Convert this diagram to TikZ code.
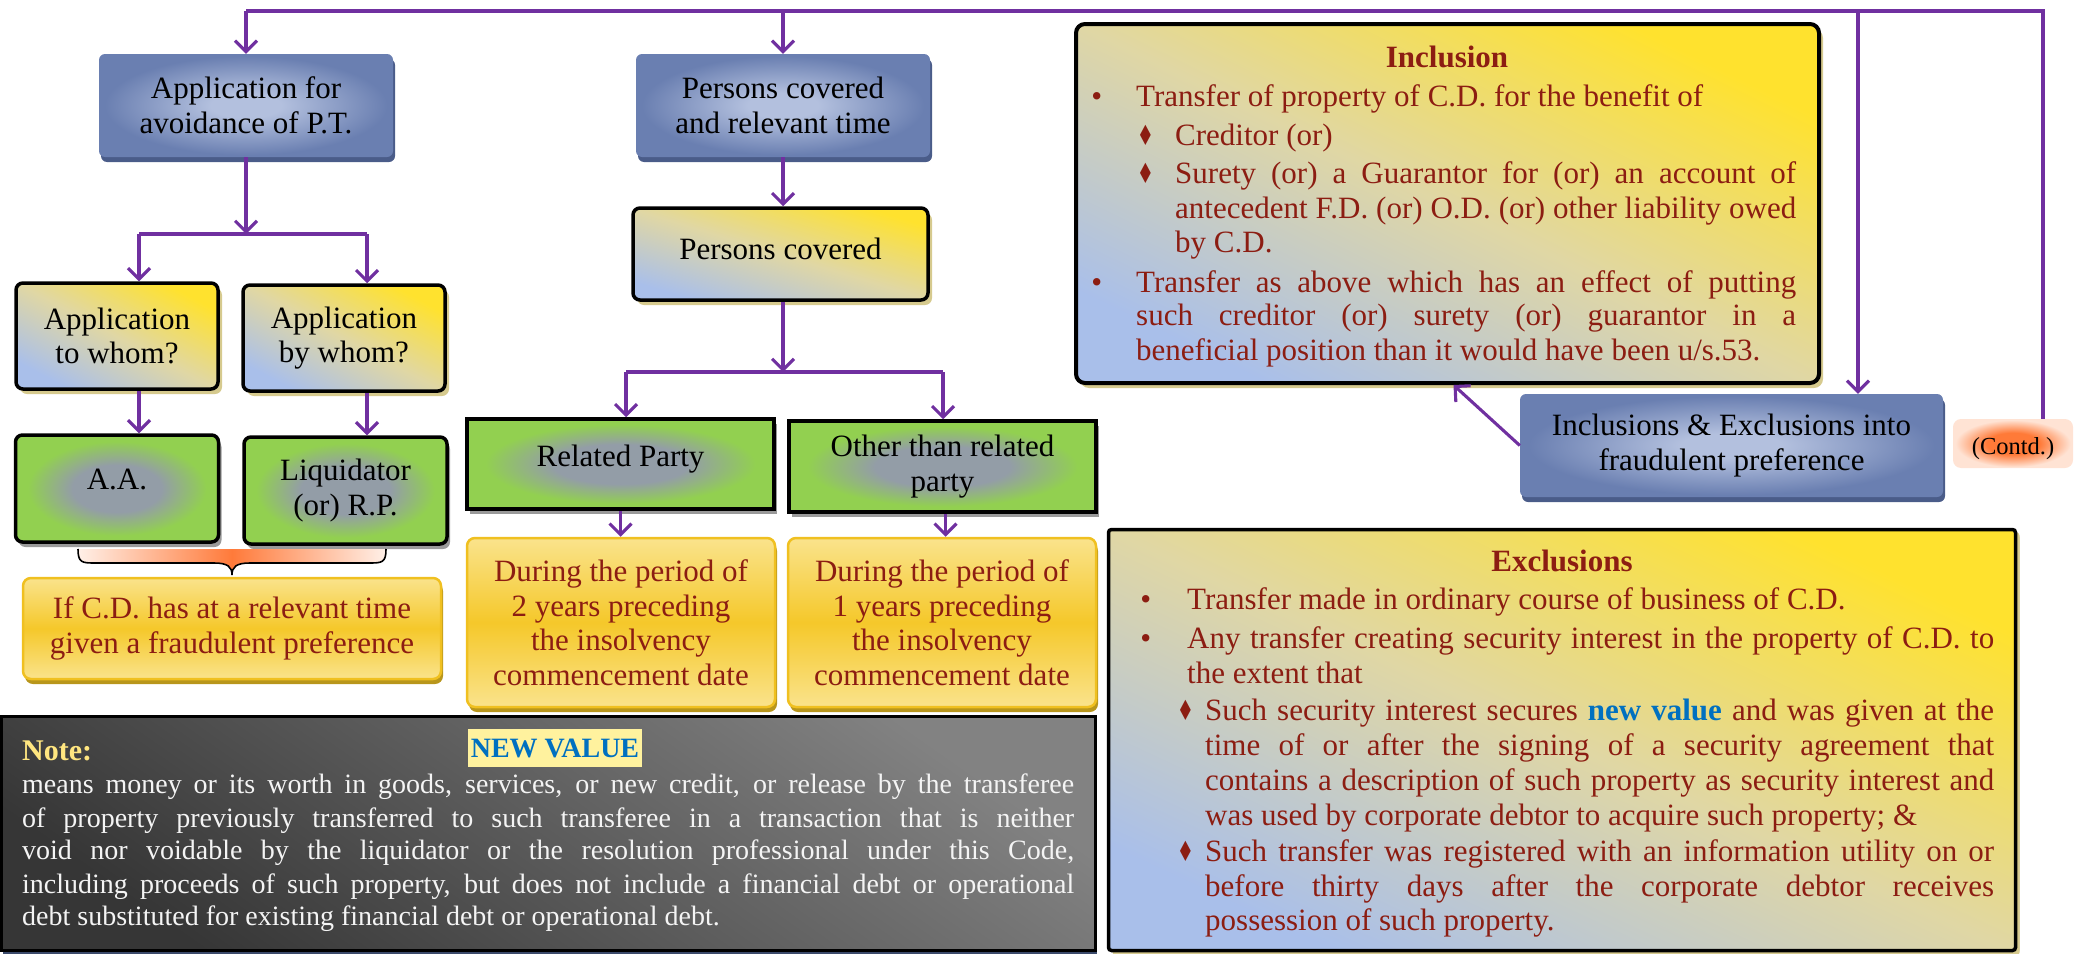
\documentclass[tikz,border=0pt]{standalone}
\usepackage{fontspec}
\usepackage{graphicx}
\setmainfont{Liberation Serif}
\newfontfamily\symfont{DejaVu Sans}
\usetikzlibrary{arrows.meta,shadows}

\definecolor{purp}{HTML}{7030A0}
\definecolor{bluein}{HTML}{B3C0DE}
\definecolor{blueout}{HTML}{6A7FB1}
\definecolor{bluedk}{HTML}{4A5C89}
\definecolor{ylw}{HTML}{FFE22E}
\definecolor{lblue}{HTML}{A9BFEA}
\definecolor{beige}{HTML}{E0D7A4}
\definecolor{beigesh}{HTML}{D6CA8E}
\definecolor{grn}{HTML}{92D050}
\definecolor{glowgray}{HTML}{939DA7}
\definecolor{graysh}{HTML}{9A9A9A}
\definecolor{gold1}{HTML}{FAE38C}
\definecolor{gold2}{HTML}{F5C82A}
\definecolor{goldedge}{HTML}{F0C020}
\definecolor{goldsh}{HTML}{B8961C}
\definecolor{txtred}{HTML}{8C1D12}
\definecolor{ngdark}{HTML}{363636}
\definecolor{nglight}{HTML}{828282}
\definecolor{navysh}{HTML}{3B4A6B}
\definecolor{braceM}{HTML}{FF7A3A}
\definecolor{braceL}{HTML}{FFF0E8}
\definecolor{contdin}{HTML}{FF7A38}
\definecolor{contdout}{HTML}{FFE3D4}
\definecolor{nvblue}{HTML}{0070C0}
\definecolor{nvbg}{HTML}{FFF29E}
\definecolor{notey}{HTML}{FFE680}
\definecolor{notetxt}{HTML}{F4F4F4}

\pgfdeclareradialshading{blueglow}{\pgfpoint{0bp}{0bp}}{color(0bp)=(bluein); color(6bp)=(bluein); color(24bp)=(blueout); color(50bp)=(blueout)}
\pgfdeclareradialshading{greenglow}{\pgfpoint{0bp}{0bp}}{color(0bp)=(glowgray); color(11bp)=(glowgray); color(22bp)=(grn); color(50bp)=(grn)}
\pgfdeclareradialshading{contdglow}{\pgfpoint{0bp}{0bp}}{color(0bp)=(contdin); color(11bp)=(contdin); color(24bp)=(contdout); color(50bp)=(contdout)}

\newcommand\boxfont{\fontsize{31}{34.5}\selectfont}
\newcommand\notefont{\fontsize{28}{33}\selectfont}
\newcommand\jl[2]{\makebox[#1pt][s]{#2}}
\newcommand\dmd{\scalebox{0.62}[0.9]{\symfont ♦}}

\tikzset{
  conn/.style={draw=purp, line width=3.1pt},
  arr/.style={conn, -{Straight Barb[length=11pt,width=22pt]}},
  bluebox/.style={shade, shading=blueglow, rounded corners=6pt, inner sep=0pt,
    align=center, font=\boxfont, text=black,
    drop shadow={shadow xshift=2pt, shadow yshift=-5pt, fill=bluedk, opacity=1}},
  framebox/.style={shade, bottom color=lblue, top color=ylw, middle color=beige,
    shading angle=#1, draw=black, line width=3.5pt, rounded corners=7pt,
    inner sep=0pt, align=center, font=\boxfont, text=black,
    drop shadow={shadow xshift=4pt, shadow yshift=-5pt, fill=beigesh, opacity=1}},
  framebox/.default=-45,
  greenbox/.style={shade, shading=greenglow, draw=black, line width=3.5pt,
    rounded corners=7pt, inner sep=0pt, align=center, font=\boxfont, text=black,
    drop shadow={shadow xshift=3pt, shadow yshift=-5pt, fill=graysh, opacity=1}},
  greenrect/.style={greenbox, sharp corners},
  goldbox/.style={shade, top color=gold1, bottom color=gold1, middle color=gold2,
    draw=goldedge, line width=2.5pt, rounded corners=8pt, inner sep=0pt,
    align=center, font=\boxfont, text=txtred,
    drop shadow={shadow xshift=2pt, shadow yshift=-5pt, fill=goldsh, opacity=1}},
  rline/.style={inner sep=0pt, anchor=base west, font=\boxfont, text=txtred},
  rtitle/.style={inner sep=0pt, anchor=base, font=\bfseries\boxfont, text=txtred},
  nline/.style={inner sep=0pt, anchor=base west, font=\notefont, text=notetxt},
}

\begin{document}
\begin{tikzpicture}[x=1pt,y=-1pt]
\useasboundingbox (0,0) rectangle (2074,953);

% ---------- left column ----------
\node[bluebox, minimum width=294pt, minimum height=103pt] (app) at (246,105.5)
  {Application for\\avoidance of P.T.};
\node[framebox=-28, minimum width=202pt, minimum height=106pt] (towhom) at (117,336)
  {Application\\to whom?};
\node[framebox=-28, minimum width=202pt, minimum height=106pt] (bywhom) at (344,338)
  {Application\\by whom?};
\node[greenbox, minimum width=203pt, minimum height=107pt, text depth=18pt] (aa) at (117,488.5)
  {A.A.};
\node[greenbox, minimum width=203pt, minimum height=107pt] (liq) at (345.5,490.5)
  {Liquidator\\(or) R.P.};
\node[goldbox, minimum width=418pt, minimum height=101pt] (ifcd) at (232,628.5)
  {If C.D. has at a relevant time\\given a fraudulent preference};

% brace gathering the two authorities
\path[shade, left color=braceL, right color=braceL, middle color=braceM]
  (78,549) .. controls (78,563) and (82,563) .. (96,563) -- (214,563)
  .. controls (228,563) and (232,567) .. (232,575)
  .. controls (232,567) and (236,563) .. (250,563) -- (368,563)
  .. controls (382,563) and (386,563) .. (386,549) -- cycle;
\draw[black, line width=1.6pt]
  (78,549) .. controls (78,563) and (82,563) .. (96,563) -- (214,563)
  .. controls (228,563) and (232,567) .. (232,575)
  .. controls (232,567) and (236,563) .. (250,563) -- (368,563)
  .. controls (382,563) and (386,563) .. (386,549);

% ---------- middle column ----------
\node[bluebox, minimum width=294pt, minimum height=103pt] (pcr) at (783,105.5)
  {Persons covered\\and relevant time};
\node[framebox=-17, minimum width=295pt, minimum height=92pt, text depth=11pt] (pc) at (780.5,254)
  {Persons covered};
\node[greenrect, minimum width=307pt, minimum height=90pt, text depth=17pt] (rp) at (620.5,464)
  {Related Party};
\node[greenrect, minimum width=307pt, minimum height=91pt] (orp) at (942.5,466.5)
  {Other than related\\party};
\node[goldbox, minimum width=308pt, minimum height=169pt] (per1) at (621,622.5)
  {During the period of\\2 years preceding\\the insolvency\\commencement date};
\node[goldbox, minimum width=308pt, minimum height=169pt] (per2) at (942,622.5)
  {During the period of\\1 years preceding\\the insolvency\\commencement date};

% ---------- note ----------
\node[shade, bottom color=ngdark, top color=nglight, shading angle=-35,
  draw=black, line width=3pt, minimum width=1094pt, minimum height=234pt,
  drop shadow={shadow xshift=1pt, shadow yshift=-3pt, fill=navysh, opacity=1}]
  (note) at (548.5,833.5) {};
\node[inner sep=0pt, anchor=base west, font=\bfseries\fontsize{30}{34}\selectfont, text=notey]
  (notelab) at (22,760) {Note:};
\node[fill=nvbg, text=nvblue, font=\bfseries\fontsize{28}{32}\selectfont,
  inner xsep=3pt, inner ysep=0pt, minimum height=38pt] (nvlab) at (555,748) {NEW VALUE};
\node[nline] (nl1) at (22,793) {\jl{1052}{means money or its worth in goods, services, or new credit, or release by the transferee}};
\node[nline] (nl2) at (22,827) {\jl{1052}{of property previously transferred to such transferee in a transaction that is neither}};
\node[nline] (nl3) at (22,859) {\jl{1052}{void nor voidable by the liquidator or the resolution professional under this Code,}};
\node[nline] (nl4) at (22,893) {\jl{1052}{including proceeds of such property, but does not include a financial debt or operational}};
\node[nline] (nl5) at (22,925) {debt substituted for existing financial debt or operational debt.};

% ---------- inclusion ----------
\node[framebox=-26, minimum width=743pt, minimum height=359pt, line width=4pt, rounded corners=9pt]
  (inc) at (1447.5,203.5) {};
\node[rtitle] (inctitle) at (1447,67) {Inclusion};
\node[rline] (inc1) at (1136,106) {\llap{\textbullet\hspace{34pt}}Transfer of property of C.D. for the benefit of};
\node[rline] (inc2) at (1175,145) {\llap{\dmd\hspace{21pt}}Creditor (or)};
\node[rline] (inc3) at (1175,183) {\llap{\dmd\hspace{21pt}}\jl{621}{Surety (or) a Guarantor for (or) an account of}};
\node[rline] (inc4) at (1175,218) {\jl{621}{antecedent F.D. (or) O.D. (or) other liability owed}};
\node[rline] (inc5) at (1175,252) {by C.D.};
\node[rline] (inc6) at (1136,292) {\llap{\textbullet\hspace{34pt}}\jl{660}{Transfer as above which has an effect of putting}};
\node[rline] (inc7) at (1136,325) {\jl{660}{such creditor (or) surety (or) guarantor in a}};
\node[rline] (inc8) at (1136,360) {beneficial position than it would have been u/s.53.};

% ---------- inclusions & exclusions ----------
\node[bluebox, minimum width=423pt, minimum height=103pt] (ie) at (1731.5,445.5)
  {Inclusions \& Exclusions into\\fraudulent preference};
\node[shade, shading=contdglow, rounded corners=8pt, inner sep=0pt,
  minimum width=120pt, minimum height=49pt, font=\fontsize{24.5}{28}\selectfont,
  text height=26pt, text depth=5pt] (contd) at (2013,443.5) {(Contd.)};

% ---------- exclusions ----------
\node[framebox=-25, minimum width=907pt, minimum height=421pt, rounded corners=3pt,
  drop shadow={shadow xshift=4pt, shadow yshift=-3pt, fill=beigesh, opacity=1}]
  (exc) at (1562,740) {};
\node[rtitle] (exctitle) at (1562,571) {Exclusions};
\node[rline] (exc1) at (1187,609) {\llap{\textbullet\hspace{36pt}}Transfer made in ordinary course of business of C.D.};
\node[rline] (exc2) at (1187,648) {\llap{\textbullet\hspace{36pt}}\jl{807}{Any transfer creating security interest in the property of C.D. to}};
\node[rline] (exc3) at (1187,683) {the extent that};
\node[rline] (exc4) at (1205,720) {\llap{\dmd\hspace{11pt}}\jl{789}{Such security interest secures {\bfseries\color{nvblue}new value} and was given at the}};
\node[rline] (exc5) at (1205,755) {\jl{789}{time of or after the signing of a security agreement that}};
\node[rline] (exc6) at (1205,790) {\jl{789}{contains a description of such property as security interest and}};
\node[rline] (exc7) at (1205,825) {was used by corporate debtor to acquire such property; \&};
\node[rline] (exc8) at (1205,861) {\llap{\dmd\hspace{11pt}}\jl{789}{Such transfer was registered with an information utility on or}};
\node[rline] (exc9) at (1205,896) {\jl{789}{before thirty days after the corporate debtor receives}};
\node[rline] (exc10) at (1205,930) {possession of such property.};

% ---------- connectors ----------
\coordinate (topA) at (246,11);
\coordinate (topB) at (783,11);
\coordinate (topIE) at (1858,11);
\coordinate (topR) at (2043,11);
\coordinate (splitA) at (246,234);
\coordinate (sA1) at (139,234);
\coordinate (sA2) at (367,234);
\coordinate (splitB) at (783,372);
\coordinate (sB1) at (626,372);
\coordinate (sB2) at (943,372);

\draw[conn] (topA) -- (topR) -- (topR |- contd.north);
\draw[arr] (topA) -- (app.north);
\draw[arr] (topB) -- (pcr.north);
\draw[arr] (topIE) -- (topIE |- ie.north);

\draw[arr] (app.south) -- (splitA);
\draw[conn] (sA1) -- (sA2);
\draw[arr] (sA1) -- (sA1 |- towhom.north);
\draw[arr] (sA2) -- (sA2 |- bywhom.north);
\draw[arr] (sA1 |- towhom.south) -- (sA1 |- aa.north);
\draw[arr] (sA2 |- bywhom.south) -- (sA2 |- liq.north);

\draw[arr] (pcr.south) -- (pcr.south |- pc.north);
\draw[arr] (splitB |- pc.south) -- (splitB);
\draw[conn] (sB1) -- (sB2);
\draw[arr] (sB1) -- (sB1 |- rp.north);
\draw[arr] (sB2) -- (sB2 |- orp.north);
\draw[arr] (rp.south) -- (rp.south |- per1.north);
\draw[arr] ([xshift=3pt]orp.south) -- ([xshift=3pt]orp.south |- per2.north);

\draw[arr] (ie.west) -- ([xshift=6pt]inc.south);
\end{tikzpicture}
\end{document}
